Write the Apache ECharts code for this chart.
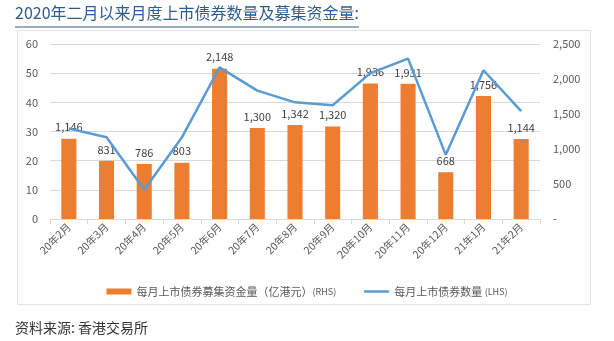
<!DOCTYPE html>
<html><head><meta charset="utf-8">
<script src="https://cdn.jsdelivr.net/npm/echarts@6/dist/echarts.min.js"></script>
<style>html,body{margin:0;padding:0;background:#fff}#c{width:614px;height:341px}</style>
</head><body><div id="c"></div>
<script>
var categories = ['20年2月','20年3月','20年4月','20年5月','20年6月','20年7月','20年8月','20年9月','20年10月','20年11月','20年12月','21年1月','21年2月'];
var fundsRaised = [1146, 831, 786, 803, 2148, 1300, 1342, 1320, 1936, 1931, 668, 1756, 1144];
var bondCount = [31, 28, 10, 28, 52, 44, 40, 39, 50, 55, 22, 51, 37];
var leftTicks = [0, 10, 20, 30, 40, 50, 60];
var rightTicks = [0, 500, 1000, 1500, 2000, 2500];
var titleText = '2020年二月以来月度上市债券数量及募集资金量:';
var sourceText = '资料来源: 香港交易所';
var barName = '每月上市债券募集资金量（亿港元）(RHS)';
var lineName = '每月上市债券数量 (LHS)';

function fmt(v){ return v.toString().replace(/\B(?=(\d{3})+(?!\d))/g, ','); }
var font = '"Noto Sans CJK SC", "Noto Sans", sans-serif';
var titleFont = '16px ' + font;
var cv = document.createElement('canvas').getContext('2d');
cv.font = titleFont;
var titleW = cv.measureText(titleText).width;

var chart = echarts.init(document.getElementById('c'));
chart.setOption({
  animation: false,
  textStyle: { fontFamily: font },
  graphic: [
    { type: 'rect', shape: { x: 17.5, y: 30.5, width: 573, height: 274 }, style: { fill: 'none', stroke: '#e3e3e3', lineWidth: 1 }, z: -1 },
    { type: 'text', left: 15, top: 5, style: { text: titleText, font: titleFont, fill: '#2e5d8e' } },
    { type: 'line', shape: { x1: 15, y1: 27, x2: 15 + titleW, y2: 27 }, style: { stroke: '#2e5d8e', lineWidth: 1 } },
    { type: 'text', left: 15, top: 321, style: { text: sourceText, font: '14px ' + font, fill: '#333' } }
  ],
  grid: { left: 50, right: 74, top: 44, height: 175, containLabel: false },
  legend: {
    top: 281, left: 'center', itemGap: 28, itemWidth: 25, itemHeight: 6,
    textStyle: { fontSize: 11, color: '#595959',
      rich: { s: { fontSize: 9, color: '#595959' } } },
    formatter: function(n){ return n.replace(/\((RHS|LHS)\)/, '{s|($1)}'); },
    data: [ { name: barName, icon: 'rect' },
            { name: lineName, icon: 'path://M0,0L100,0L100,10L0,10Z', itemStyle: { color: '#5b9bd5' } } ]
  },
  xAxis: {
    type: 'category', data: categories,
    axisLine: { lineStyle: { color: '#d9d9d9' } },
    axisTick: { show: true, alignWithLabel: false, lineStyle: { color: '#d9d9d9' } },
    axisLabel: { rotate: 45, fontSize: 10.5, color: '#595959', interval: 0, margin: 6 }
  },
  yAxis: [
    { type: 'value', min: 0, max: 60, interval: 10, position: 'left',
      axisLine: { show: false }, axisTick: { show: false },
      axisLabel: { fontSize: 11, color: '#595959', margin: 12 },
      splitLine: { lineStyle: { color: '#d9d9d9' } } },
    { type: 'value', min: 0, max: 2500, interval: 500, position: 'right',
      axisLine: { show: false }, axisTick: { show: false },
      axisLabel: { fontSize: 11, color: '#595959', margin: 13,
        formatter: function(v){ return v === 0 ? '-' : fmt(v); } },
      splitLine: { show: false } }
  ],
  series: [
    { name: barName, type: 'bar', yAxisIndex: 1, data: fundsRaised, barWidth: '40%',
      itemStyle: { color: '#ed7d31' },
      label: { show: true, position: 'top', distance: 6, fontSize: 11, color: '#404040',
        formatter: function(p){ return fmt(p.value); } } },
    { name: lineName, type: 'line', yAxisIndex: 0, data: bondCount, symbol: 'none', showSymbol: false,
      lineStyle: { color: '#5b9bd5', width: 2.5 }, itemStyle: { color: '#5b9bd5' }, z: 3 }
  ]
});
</script></body></html>
